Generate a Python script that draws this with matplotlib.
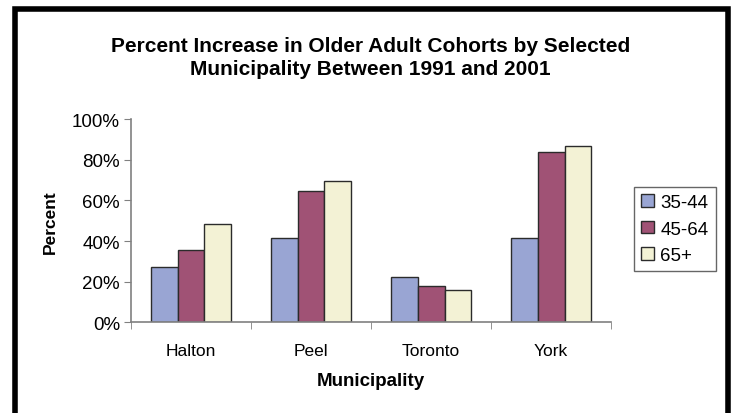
# percent increase in older adult cohorts, 1991-2001

import numpy as np
from matplotlib import pyplot as plt
from matplotlib.patches import Rectangle
from matplotlib.ticker import PercentFormatter

plt.rcParams['font.family'] = ['Liberation Sans', 'DejaVu Sans']

municipalities = ['Halton', 'Peel', 'Toronto', 'York']
cohorts = ['35-44', '45-64', '65+']
pct_35_44 = [27.3, 41.5, 22.1, 41.5]
pct_45_64 = [35.7, 64.4, 17.7, 83.6]
pct_65_up = [48.3, 69.7, 15.9, 86.8]
series = [pct_35_44, pct_45_64, pct_65_up]
colors = ['#99a5d3', '#a05275', '#f3f2d5']

fig = plt.figure(figsize=(7.33, 4.14), dpi=100)
ax = fig.add_axes([0.1787, 0.219, 0.655, 0.491])

x = np.arange(len(municipalities))
w = 0.224
for i, vals in enumerate(series):
    ax.bar(x + (i - 1) * w, vals, w, color=colors[i], edgecolor='#2b2b2b',
           linewidth=1.0, label=cohorts[i])

ax.set_xlim(-0.5, 3.5)
ax.set_ylim(0, 100)
ax.set_yticks(range(0, 101, 20))
ax.yaxis.set_major_formatter(PercentFormatter(decimals=0))
ax.set_xticks(x)
ax.set_xticklabels(municipalities)
ax.set_xticks(np.arange(-0.5, 3.6, 1), minor=True)
ax.tick_params(axis='x', which='major', length=0, pad=15, labelsize=12.5)
ax.tick_params(axis='x', which='minor', length=5, color='#808080', direction='out')
ax.tick_params(axis='y', length=5, color='#808080', labelsize=13.5, pad=3)

for s in ['top', 'right']:
    ax.spines[s].set_visible(False)
for s in ['left', 'bottom']:
    ax.spines[s].set_color('#808080')
    ax.spines[s].set_linewidth(1.2)

ax.set_ylabel('Percent', fontsize=12.5, fontweight='bold', labelpad=10)
ax.set_xlabel('Municipality', fontsize=13.5, fontweight='bold', labelpad=10)

fig.text(0.505, 0.859, 'Percent Increase in Older Adult Cohorts by Selected\nMunicipality Between 1991 and 2001',
         ha='center', va='center', fontsize=15, fontweight='bold', linespacing=1.25)

leg = ax.legend(loc='center left', bbox_to_anchor=(1.028, 0.459), fontsize=13.5,
                frameon=True, fancybox=False, edgecolor='#404040',
                handlelength=0.65, handleheight=0.65, handletextpad=0.35,
                borderpad=0.4, labelspacing=0.5)
leg.get_frame().set_linewidth(1.0)

# thick black frame round the chart, cut off at the bottom
fig.patches.append(Rectangle((14.5 / 733, -0.05), (727.5 - 14.5) / 733, 1 - 9.5 / 414 + 0.05,
                             transform=fig.transFigure, fill=False,
                             edgecolor='black', linewidth=4))

plt.savefig('out.png', dpi=100)
